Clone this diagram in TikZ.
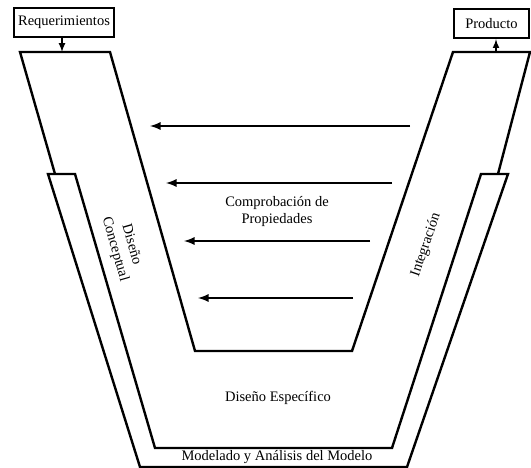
\documentclass[tikz,border=0pt]{standalone}
\usepackage{fontspec}
\setmainfont{Liberation Serif}
\usetikzlibrary{positioning}

\begin{document}
\begin{tikzpicture}[x=1pt, y=-1pt, line width=2.4pt, line join=miter,
		every node/.style={font=\fontsize{14.5}{17}\selectfont, inner sep=0pt},
		caja/.style={draw, line width=2.4pt, minimum height=29pt}]
		\useasboundingbox (0,0) rectangle (531,468);

		% cajas de entrada y salida
		\node [caja, minimum width=100pt] (req) at (64,22.5) {Requerimientos};
		\node [caja, minimum width=75pt] (prod) at (491.5,23.5) {Producto};

		% embudo
		\draw (55,174) -- (20,52) -- (110,52) -- (195,351) -- (352,351) -- (453,52) -- (530,52) -- (498,174);
		\coordinate (ent) at (62,52);
		\coordinate (sal) at (496,52);

		% banda exterior
		\draw (48,174) -- (140,467) -- (407,467) -- (508,174) -- (481,174) -- (392,448) -- (155,448) -- (75,174) -- cycle;

		\draw [-latex, line width=2pt](req.south -| ent) -- (ent);
		\draw [-latex, line width=2pt](sal) -- (prod.south -| sal);

		% flechas de comprobacion
		\coordinate (a1) at (410,126); \coordinate (b1) at (150,126);
		\coordinate (a2) at (392,183); \coordinate (b2) at (166,183);
		\coordinate (a3) at (370,241); \coordinate (b3) at (184,241);
		\coordinate (a4) at (353,298); \coordinate (b4) at (198,298);
		\foreach \i in {1,...,4}
			\draw [-latex, line width=2.6pt](a\i) -- (b\i);

		% textos
		\node [align=center] (comp) at (277,212) {Comprobación de\\Propiedades};
		\node (esp) at (278,398) {Diseño Específico};
		\node (mod) at (277,457.5) {Modelado y Análisis del Modelo};
		\node [align=center, rotate=-74] (conc) at (123,247) {Diseño\\Conceptual};
		\node [rotate=71] (int) at (426,245) {Integración};
	\end{tikzpicture}
\end{document}
